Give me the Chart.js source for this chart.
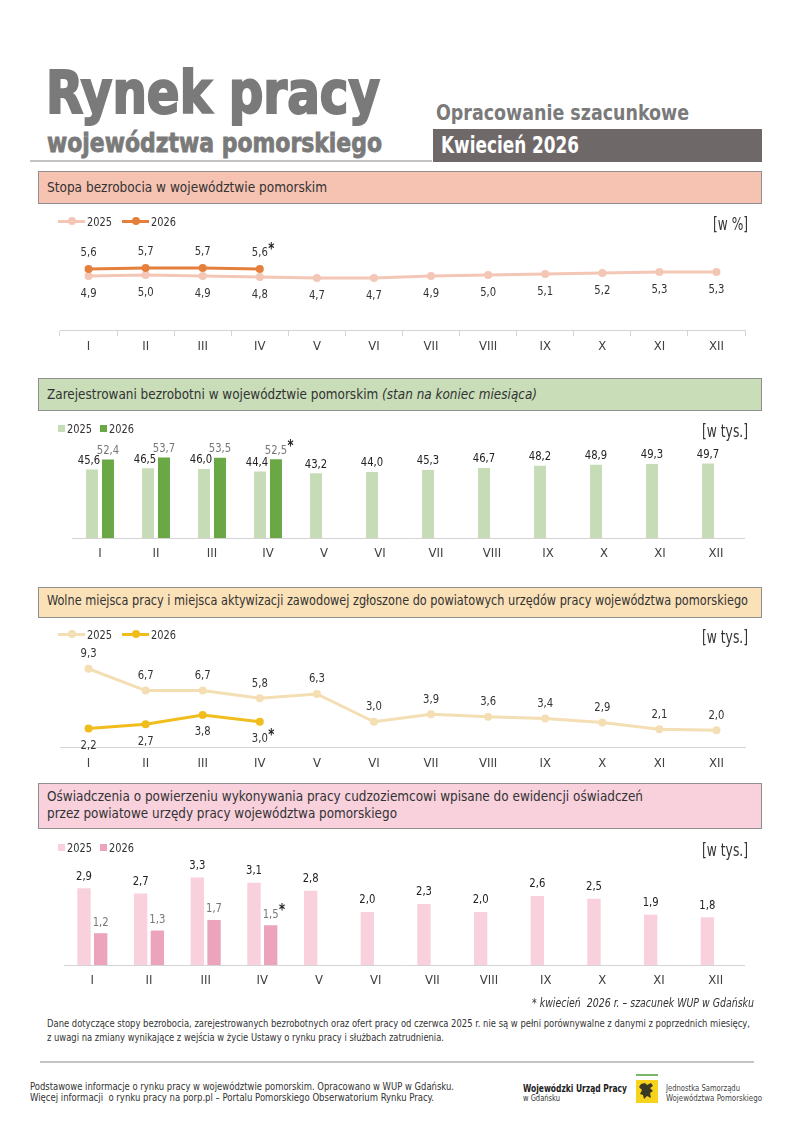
<!DOCTYPE html>
<html lang="pl">
<head>
<meta charset="utf-8">
<title>Rynek pracy województwa pomorskiego</title>
<script src="https://cdn.jsdelivr.net/npm/chart.js@4.4.1/dist/chart.umd.min.js"></script>
<style>
  body { margin: 0; background: #fff; }
  #page { position: relative; width: 800px; height: 1131px; overflow: hidden;
          font-family: 'Liberation Sans Narrow', 'DejaVu Sans Condensed', sans-serif; color: #333; }
  .t { position: absolute; white-space: nowrap; line-height: 1; transform-origin: 0 0; }
  .box { position: absolute; left: 38px; width: 724px; border: 1px solid #8f8f8f; box-sizing: border-box; }
  .rule { position: absolute; height: 2px; background: #c4c4c4; }
  canvas { position: absolute; left: 0; }
  .mk { position: absolute; }
</style>
</head>
<body>
<div id="page">
  <div class="rule" style="left:30px;top:160px;width:402px"></div>
  <div style="position:absolute;left:433px;top:129px;width:329px;height:33px;background:#6e6868"></div>

  <div class="box" style="top:171px;height:33px;background:#f6c2b1"></div>
  <div class="box" style="top:378px;height:33px;background:#c8ddb8"></div>
  <div class="box" style="top:587px;height:31px;background:#fbe1b8"></div>
  <div class="box" style="top:783px;height:46px;background:#f8d1dd"></div>

  <div class="rule" style="left:40px;top:1061px;width:714px"></div>

  <canvas id="c1" width="800" height="160" style="top:205px"></canvas>
  <canvas id="c2" width="800" height="158" style="top:415px"></canvas>
  <canvas id="c3" width="800" height="142" style="top:640px"></canvas>
  <canvas id="c4" width="800" height="150" style="top:850px"></canvas>

  <svg style="position:absolute;left:636px;top:1074px" width="22" height="29" viewBox="0 0 22 29">
    <rect x="0" y="0" width="22" height="2" fill="#79b86a"/>
    <rect x="0" y="6" width="22" height="23" fill="#f6d31c"/>
    <path d="M5 10 L9 9 L11 11 L15 9 L17 12 L14 14 L17 17 L14 19 L15 24 L11 22 L8 25 L7 21 L4 20 L6 16 L3 13 Z" fill="#3a3a22"/>
  </svg>
</div>

<script>
const months = ['I', 'II', 'III', 'IV', 'V', 'VI', 'VII', 'VIII', 'IX', 'X', 'XI', 'XII'];

// stopa bezrobocia [%]
const rate2025 = [4.9, 5.0, 4.9, 4.8, 4.7, 4.7, 4.9, 5.0, 5.1, 5.2, 5.3, 5.3];
const rate2026 = [5.6, 5.7, 5.7, 5.6];

// zarejestrowani bezrobotni [tys.]
const unemp2025 = [45.6, 46.5, 46.0, 44.4, 43.2, 44.0, 45.3, 46.7, 48.2, 48.9, 49.3, 49.7];
const unemp2026 = [52.4, 53.7, 53.5, 52.5];

// wolne miejsca pracy [tys.]
const offers2025 = [9.3, 6.7, 6.7, 5.8, 6.3, 3.0, 3.9, 3.6, 3.4, 2.9, 2.1, 2.0];
const offers2026 = [2.2, 2.7, 3.8, 3.0];

// oświadczenia cudzoziemcy [tys.]
const decl2025 = [2.9, 2.7, 3.3, 3.1, 2.8, 2.0, 2.3, 2.0, 2.6, 2.5, 1.9, 1.8];
const decl2026 = [1.2, 1.3, 1.7, 1.5];

const FONT = "'Liberation Sans Narrow', 'DejaVu Sans Condensed', sans-serif";
Chart.defaults.font.family = FONT;

const page = document.getElementById('page');

// text helper: x, baseline, size, target width
function txt(html, x, base, size, w, style) {
  const d = document.createElement('div');
  d.className = 't';
  d.innerHTML = html;
  d.style.left = x + 'px';
  d.style.top = (base - 0.86 * size) + 'px';
  d.style.fontSize = size + 'px';
  if (style) d.style.cssText += style;
  if (w) d.dataset.w = w;
  page.appendChild(d);
  return d;
}

txt('Rynek pracy', 46, 114, 58, 334, 'font-weight:bold;color:#7a7a7a;-webkit-text-stroke:2px #7a7a7a');
txt('województwa pomorskiego', 47, 152, 27, 335, 'font-weight:bold;color:#7a7a7a;-webkit-text-stroke:0.8px #7a7a7a');
txt('Opracowanie szacunkowe', 436, 121, 21, 253, 'font-weight:bold;color:#7a7a7a');
txt('Kwiecień 2026', 441, 154, 23, 138, 'font-weight:bold;color:#fff');

txt('Stopa bezrobocia w województwie pomorskim', 47, 192, 14, 280);
txt('Zarejestrowani bezrobotni w województwie pomorskim <i>(stan na koniec miesiąca)</i>', 47, 399, 14, 490);
txt('Wolne miejsca pracy i miejsca aktywizacji zawodowej zgłoszone do powiatowych urzędów pracy województwa pomorskiego', 47, 605, 14, 701);
txt('Oświadczenia o powierzeniu wykonywania pracy cudzoziemcowi wpisane do ewidencji oświadczeń', 47, 801, 14, 596);
txt('przez powiatowe urzędy pracy województwa pomorskiego', 47, 818, 14, 350);

txt('[w %]', 713, 231, 17, 35);
txt('[w tys.]', 702, 438, 17, 46);
txt('[w tys.]', 702, 644, 17, 46);
txt('[w tys.]', 702, 857, 17, 46);

txt('* kwiecień&nbsp; 2026 r. – szacunek WUP w Gdańsku', 532, 1007, 12, 222, 'font-style:italic');
txt('Dane dotyczące stopy bezrobocia, zarejestrowanych bezrobotnych oraz ofert pracy od czerwca 2025 r. nie są w pełni porównywalne z danymi z poprzednich miesięcy,', 47, 1028, 10, 703);
txt('z uwagi na zmiany wynikające z wejścia w życie Ustawy o rynku pracy i służbach zatrudnienia.', 47, 1042, 10, 397);
txt('Podstawowe informacje o rynku pracy w województwie pomorskim. Opracowano w WUP w Gdańsku.', 30, 1091, 10, 424);
txt('Więcej informacji&nbsp; o rynku pracy na porp.pl – Portalu Pomorskiego Obserwatorium Rynku Pracy.', 30, 1102, 10, 404);
txt('Wojewódzki Urząd Pracy', 523, 1092, 11, 104, 'font-weight:bold;color:#222');
txt('w Gdańsku', 523, 1102, 8, 37);
txt('Jednostka Samorządu', 666, 1092, 9, 74, 'color:#444');
txt('Województwa Pomorskiego', 666, 1102, 9, 96, 'color:#444');

// legends
function mk(x, y, w, h, color, round) {
  const d = document.createElement('div');
  d.className = 'mk';
  d.style.cssText += `left:${x}px;top:${y}px;width:${w}px;height:${h}px;background:${color};` + (round ? 'border-radius:50%;' : '');
  page.appendChild(d);
}
function legend(y, kind, c1, c2) {
  [[c1, 58, '2025'], [c2, kind === 'line' ? 122 : 100, '2026']].forEach(([c, x, label]) => {
    if (kind === 'line') {
      mk(x, y - 1.5, 27, 3, c);
      mk(x + 9.5, y - 4, 8, 8, c, true);
      txt(label, x + 29, y + 5, 13, 25);
    } else {
      mk(x, y - 3.5, 7, 7, c);
      txt(label, x + 9, y + 5, 13, 25);
    }
  });
}
legend(221, 'line', '#f3c6b6', '#e47f3c');
legend(428, 'square', '#c6dcb6', '#6aa846');
legend(634, 'line', '#f4deb3', '#f1bd1c');
legend(847, 'square', '#f8d1dd', '#eca4bd');

// value labels drawn at the element positions given by the library
const valueLabels = {
  id: 'valueLabels',
  afterDatasetsDraw(chart) {
    const ctx = chart.ctx;
    const sets = chart.data.datasets;
    sets.forEach((ds, di) => {
      const cfg = ds.lbl;
      const meta = chart.getDatasetMeta(di);
      meta.data.forEach((el, i) => {
        const v = ds.data[i];
        if (v == null) return;
        const s = v.toFixed(1).replace('.', ',');
        const y = cfg.pos === 'below' ? el.y + cfg.dy : el.y - cfg.dy;
        const paired = sets.every(o => o.data[i] != null);
        const x = el.x + (paired && cfg.dx ? cfg.dx : 0);
        ctx.save();
        ctx.translate(x, y);
        ctx.scale(0.86, 1);
        ctx.font = '13px ' + FONT;
        ctx.fillStyle = cfg.color;
        ctx.textAlign = 'center';
        ctx.textBaseline = 'middle';
        ctx.fillText(s, 0, 0);
        if (ds.star && i === ds.data.length - 1) {
          const w = ctx.measureText(s).width;
          ctx.font = 'bold 15px ' + FONT;
          ctx.fillStyle = '#222';
          ctx.textAlign = 'left';
          ctx.fillText('*', w / 2 + 0.5, -3);
        }
        ctx.restore();
      });
    });
  }
};

function xAxis(pad, tick) {
  return {
    offset: true,
    grid: { offset: true, drawOnChartArea: false, drawTicks: tick > 0, tickLength: tick, color: '#d4d4d4' },
    border: { color: '#d4d4d4', width: 1 },
    ticks: { color: '#404040', font: { size: 13 }, padding: pad, maxRotation: 0, autoSkip: false },
    afterFit: s => { s.height = 30; }
  };
}

function baseOptions(pad, yMin, yMax, tickPad, tick) {
  return {
    responsive: false,
    animation: false,
    layout: { padding: pad },
    plugins: { legend: { display: false }, tooltip: { enabled: false } },
    scales: {
      x: xAxis(tickPad, tick),
      y: { display: false, min: yMin, max: yMax }
    }
  };
}

function lineSet(data, color, lbl, star) {
  return { data, borderColor: color, backgroundColor: color, borderWidth: 3,
           pointRadius: 4, pointBackgroundColor: color, pointBorderWidth: 0,
           tension: 0, lbl, star };
}
function barSet(data, color, lbl, star, bp, cp) {
  return { data, backgroundColor: color, borderWidth: 0,
           barPercentage: bp, categoryPercentage: cp, lbl, star };
}

new Chart(document.getElementById('c1'), {
  type: 'line',
  data: {
    labels: months,
    datasets: [
      lineSet(rate2026, '#e47f3c', { pos: 'above', dy: 16, color: '#333' }, true),
      lineSet(rate2025, '#f3c6b6', { pos: 'below', dy: 18, color: '#333' }, false)
    ]
  },
  options: baseOptions({ left: 60, right: 55, top: 25, bottom: 5 }, -0.5, 9.5, 3, 6),
  plugins: [valueLabels]
});

new Chart(document.getElementById('c2'), {
  type: 'bar',
  data: {
    labels: months,
    datasets: [
      barSet(unemp2025, '#c6dcb6', { pos: 'above', dy: 9, color: '#222', dx: -3 }, false, 0.75, 0.57),
      barSet(unemp2026, '#6aa846', { pos: 'above', dy: 9, color: '#777' }, true, 0.75, 0.57)
    ]
  },
  options: baseOptions({ left: 72, right: 56, top: 33, bottom: 5 }, 0, 60, 8, 0),
  plugins: [valueLabels]
});

new Chart(document.getElementById('c3'), {
  type: 'line',
  data: {
    labels: months,
    datasets: [
      lineSet(offers2026, '#f1bd1c', { pos: 'below', dy: 17, color: '#333' }, true),
      lineSet(offers2025, '#f4deb3', { pos: 'above', dy: 15, color: '#333' }, false)
    ]
  },
  options: baseOptions({ left: 60, right: 55, top: 6, bottom: 5 }, 0, 12, 9, 0),
  plugins: [valueLabels]
});

new Chart(document.getElementById('c4'), {
  type: 'bar',
  data: {
    labels: months,
    datasets: [
      barSet(decl2025, '#f8d1dd', { pos: 'above', dy: 12, color: '#222' }, false, 0.8, 0.59),
      barSet(decl2026, '#eca4bd', { pos: 'above', dy: 11, color: '#777' }, true, 0.8, 0.59)
    ]
  },
  options: baseOptions({ left: 64, right: 56, top: 9, bottom: 5 }, 0, 4, 8, 0),
  plugins: [valueLabels]
});

// squeeze text runs to the widths seen in the layout
function fitTexts() {
  document.querySelectorAll('.t[data-w]').forEach(el => {
    const w = el.getBoundingClientRect().width / (el._sx || 1);
    const sx = +el.dataset.w / w;
    el._sx = sx;
    el.style.transform = `scaleX(${sx})`;
  });
}
fitTexts();
if (document.fonts && document.fonts.ready) document.fonts.ready.then(fitTexts);
</script>
</body>
</html>
